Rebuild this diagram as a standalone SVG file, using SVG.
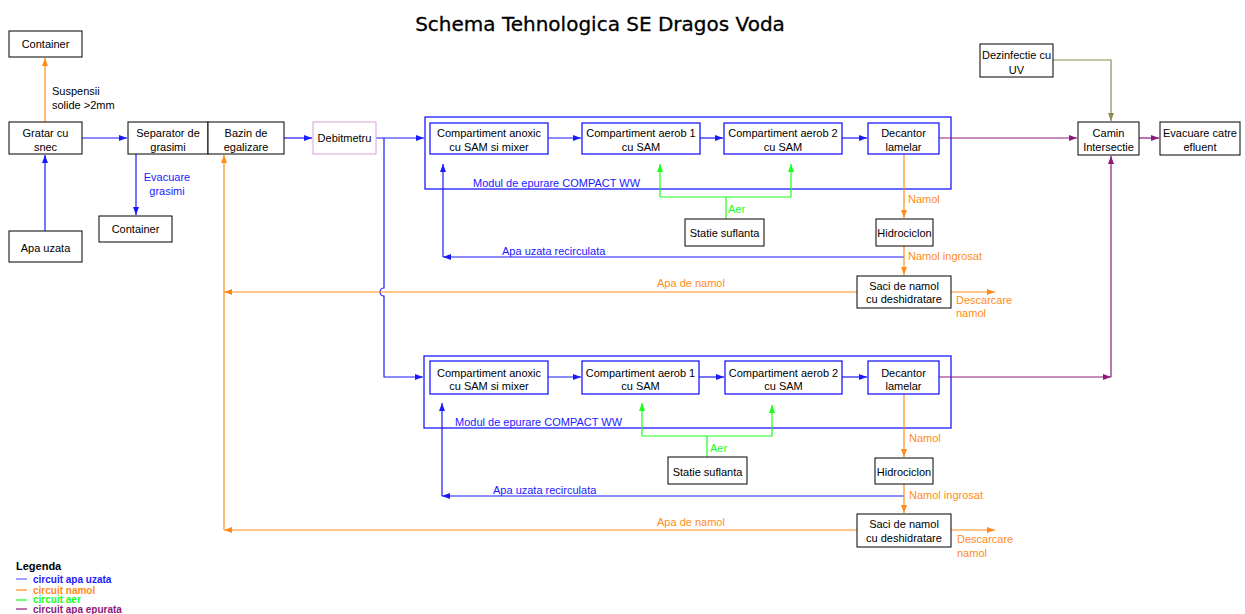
<svg xmlns="http://www.w3.org/2000/svg" width="1245" height="614" viewBox="0 0 1245 614">
<style>
.n{fill:#fff;stroke:#000;stroke-width:1}
.c{fill:#fff;stroke:#1a1aff;stroke-width:1.3}
.m{fill:none;stroke:#1a1aff;stroke-width:1.3}
.t{font-family:"Liberation Sans",Arial,sans-serif;font-size:11px;fill:#000;text-anchor:middle}
.l{font-family:"Liberation Sans",Arial,sans-serif;font-size:11px}
.bl{fill:#1a1aff}.or{fill:#ff8c1a}.gr{fill:#1aff1a}.pu{fill:#8b1a7a}
.B{fill:none;stroke:#1a1aff;stroke-width:1.2}
.O{fill:none;stroke:#ff8c1a;stroke-width:1.2}
.G{fill:none;stroke:#1aff1a;stroke-width:1.2}
.P{fill:none;stroke:#8b1a7a;stroke-width:1.2}
.V{fill:none;stroke:#8c8c50;stroke-width:1.2}
.lg{font-family:"Liberation Sans",Arial,sans-serif;font-size:10px;font-weight:bold}
</style>
<defs>
<marker id="ab" viewBox="0 0 8 6" refX="8" refY="3" markerWidth="8" markerHeight="6" orient="auto" markerUnits="userSpaceOnUse"><path d="M0,0L8,3L0,6z" fill="#1a1aff"/></marker>
<marker id="ao" viewBox="0 0 8 6" refX="8" refY="3" markerWidth="8" markerHeight="6" orient="auto" markerUnits="userSpaceOnUse"><path d="M0,0L8,3L0,6z" fill="#ff8c1a"/></marker>
<marker id="ag" viewBox="0 0 8 6" refX="8" refY="3" markerWidth="8" markerHeight="6" orient="auto" markerUnits="userSpaceOnUse"><path d="M0,0L8,3L0,6z" fill="#1aff1a"/></marker>
<marker id="ap" viewBox="0 0 8 6" refX="8" refY="3" markerWidth="8" markerHeight="6" orient="auto" markerUnits="userSpaceOnUse"><path d="M0,0L8,3L0,6z" fill="#8b1a7a"/></marker>
<marker id="av" viewBox="0 0 8 6" refX="8" refY="3" markerWidth="8" markerHeight="6" orient="auto" markerUnits="userSpaceOnUse"><path d="M0,0L8,3L0,6z" fill="#8c8c50"/></marker>
</defs>
<rect width="1245" height="614" fill="#fff"/>
<text x="600" y="31" style="font-family:'DejaVu Sans',sans-serif;font-size:20px;text-anchor:middle;stroke:#000;stroke-width:0.3">Schema Tehnologica SE Dragos Voda</text>

<g id="modules">
<rect class="m" x="425" y="117" width="526" height="72"/>
<rect class="m" x="424" y="356" width="527" height="72"/>
<text class="l bl" x="473" y="187">Modul de epurare COMPACT WW</text>
<text class="l bl" x="455" y="426">Modul de epurare COMPACT WW</text>
</g>

<g id="connectors">
<path class="B" d="M45,231V155" marker-end="url(#ab)"/>
<path class="B" d="M82,138H127" marker-end="url(#ab)"/>
<path class="B" d="M136,154V215" marker-end="url(#ab)"/>
<path class="B" d="M284,138H312" marker-end="url(#ab)"/>
<path class="B" d="M376,138H424" marker-end="url(#ab)"/>
<path class="B" d="M384,138V288A4,4 0 0 0 384,296V377H423" marker-end="url(#ab)"/>
<path class="B" d="M548,138H581" marker-end="url(#ab)"/>
<path class="B" d="M700,138H723" marker-end="url(#ab)"/>
<path class="B" d="M842,138H867" marker-end="url(#ab)"/>
<path class="B" d="M548,377H581" marker-end="url(#ab)"/>
<path class="B" d="M699,377H724" marker-end="url(#ab)"/>
<path class="B" d="M842,377H867" marker-end="url(#ab)"/>
<path class="B" d="M904,257H443" marker-end="url(#ab)"/>
<path class="B" d="M443,257V164" marker-end="url(#ab)"/>
<path class="B" d="M904,496H442" marker-end="url(#ab)"/>
<path class="B" d="M442,496V403" marker-end="url(#ab)"/>

<path class="G" d="M660,197H791M726,197V219"/>
<path class="G" d="M660,197V164" marker-end="url(#ag)"/>
<path class="G" d="M791,197V164" marker-end="url(#ag)"/>
<path class="G" d="M642,436H772M707,436V457"/>
<path class="G" d="M642,436V403" marker-end="url(#ag)"/>
<path class="G" d="M772,436V405" marker-end="url(#ag)"/>

<path class="O" d="M45,122V58" marker-end="url(#ao)"/>
<path class="O" d="M904,154V218" marker-end="url(#ao)"/>
<path class="O" d="M904,246V275" marker-end="url(#ao)"/>
<path class="O" d="M904,394V457" marker-end="url(#ao)"/>
<path class="O" d="M904,484V513" marker-end="url(#ao)"/>
<path class="O" d="M857,292H224" marker-end="url(#ao)"/>
<path class="O" d="M857,530H224" marker-end="url(#ao)"/>
<path class="O" d="M224,530V155" marker-end="url(#ao)"/>
<path class="O" d="M951,292H995" marker-end="url(#ao)"/>
<path class="O" d="M951,530H995" marker-end="url(#ao)"/>

<path class="P" d="M939,138H1077" marker-end="url(#ap)"/>
<path class="P" d="M1139,138H1159" marker-end="url(#ap)"/>
<path class="P" d="M939,377H1111" marker-end="url(#ap)"/>
<path class="P" d="M1111,377V156" marker-end="url(#ap)"/>
<path class="V" d="M1053,60H1111V121" marker-end="url(#av)"/>

<text class="l" x="52" y="95">Suspensii</text>
<text class="l" x="52" y="109">solide &gt;2mm</text>
<text class="l bl" x="167" y="181" text-anchor="middle">Evacuare</text>
<text class="l bl" x="167" y="195" text-anchor="middle">grasimi</text>
<text class="l bl" x="502" y="255">Apa uzata recirculata</text>
<text class="l bl" x="493" y="494">Apa uzata recirculata</text>
<text class="l gr" x="728" y="213">Aer</text>
<text class="l gr" x="710" y="452">Aer</text>
<text class="l or" x="908" y="203">Namol</text>
<text class="l or" x="908" y="260">Namol ingrosat</text>
<text class="l or" x="909" y="442">Namol</text>
<text class="l or" x="909" y="499">Namol ingrosat</text>
<text class="l or" x="657" y="287">Apa de namol</text>
<text class="l or" x="657" y="526">Apa de namol</text>
<text class="l or" x="956" y="304">Descarcare</text>
<text class="l or" x="956" y="317">namol</text>
<text class="l or" x="957" y="543">Descarcare</text>
<text class="l or" x="957" y="557">namol</text>
</g>

<g id="container1"><rect class="n" x="9" y="31" width="73" height="26"/><text class="t" x="45.5" y="48">Container</text></g>
<g id="gratar"><rect class="n" x="9" y="122" width="73" height="32"/><text class="t" x="45.5" y="137">Gratar cu</text><text class="t" x="45.5" y="151">snec</text></g>
<g id="apa-uzata"><rect class="n" x="9" y="231" width="73" height="31"/><text class="t" x="45.5" y="252">Apa uzata</text></g>
<g id="separator"><rect class="n" x="128" y="122" width="80" height="32"/><text class="t" x="168" y="137">Separator de</text><text class="t" x="168" y="151">grasimi</text></g>
<g id="bazin"><rect class="n" x="208" y="122" width="76" height="32"/><text class="t" x="246" y="137">Bazin de</text><text class="t" x="246" y="151">egalizare</text></g>
<g id="container2"><rect class="n" x="99" y="216" width="73" height="26"/><text class="t" x="135.5" y="233">Container</text></g>
<g id="debitmetru"><rect x="313" y="122" width="63" height="32" fill="#fff" stroke="#d9a0d9"/><text class="t" x="344.5" y="142">Debitmetru</text></g>

<g id="anoxic1"><rect class="c" x="430" y="123" width="118" height="31"/><text class="t" x="489" y="137">Compartiment anoxic</text><text class="t" x="489" y="151">cu SAM si mixer</text></g>
<g id="aerob1-1"><rect class="c" x="582" y="123" width="118" height="31"/><text class="t" x="641" y="137">Compartiment aerob 1</text><text class="t" x="641" y="151">cu SAM</text></g>
<g id="aerob2-1"><rect class="c" x="724" y="123" width="118" height="31"/><text class="t" x="783" y="137">Compartiment aerob 2</text><text class="t" x="783" y="151">cu SAM</text></g>
<g id="decantor1"><rect class="c" x="868" y="123" width="71" height="31"/><text class="t" x="903.5" y="137">Decantor</text><text class="t" x="903.5" y="151">lamelar</text></g>
<g id="statie1"><rect class="n" x="685" y="219" width="79" height="27"/><text class="t" x="724.5" y="237">Statie suflanta</text></g>
<g id="hidro1"><rect class="n" x="876" y="219" width="57" height="27"/><text class="t" x="904.5" y="237">Hidrociclon</text></g>
<g id="saci1"><rect class="n" x="857" y="276" width="94" height="32"/><text class="t" x="904" y="290">Saci de namol</text><text class="t" x="904" y="303">cu deshidratare</text></g>

<g id="anoxic2"><rect class="c" x="430" y="361" width="118" height="33"/><text class="t" x="489" y="377">Compartiment anoxic</text><text class="t" x="489" y="390">cu SAM si mixer</text></g>
<g id="aerob1-2"><rect class="c" x="582" y="361" width="117" height="33"/><text class="t" x="640.5" y="377">Compartiment aerob 1</text><text class="t" x="640.5" y="390">cu SAM</text></g>
<g id="aerob2-2"><rect class="c" x="725" y="361" width="117" height="33"/><text class="t" x="783.5" y="377">Compartiment aerob 2</text><text class="t" x="783.5" y="390">cu SAM</text></g>
<g id="decantor2"><rect class="c" x="868" y="361" width="71" height="33"/><text class="t" x="903.5" y="377">Decantor</text><text class="t" x="903.5" y="390">lamelar</text></g>
<g id="statie2"><rect class="n" x="668" y="457" width="79" height="27"/><text class="t" x="707.5" y="476">Statie suflanta</text></g>
<g id="hidro2"><rect class="n" x="875" y="458" width="58" height="26"/><text class="t" x="904" y="476">Hidrociclon</text></g>
<g id="saci2"><rect class="n" x="857" y="514" width="94" height="33"/><text class="t" x="904" y="528">Saci de namol</text><text class="t" x="904" y="542">cu deshidratare</text></g>

<g id="dezinfectie"><rect class="n" x="980" y="44" width="73" height="33"/><text class="t" x="1016.5" y="59">Dezinfectie cu</text><text class="t" x="1016.5" y="74">UV</text></g>
<g id="camin"><rect class="n" x="1078" y="122" width="61" height="33"/><text class="t" x="1108.5" y="137">Camin</text><text class="t" x="1108.5" y="151">Intersectie</text></g>
<g id="evacuare"><rect class="n" x="1160" y="122" width="80" height="33"/><text class="t" x="1200" y="137">Evacuare catre</text><text class="t" x="1200" y="151">efluent</text></g>

<g id="legend">
<text class="lg" x="16" y="570" style="font-size:11px">Legenda</text>
<path d="M16,579H27" stroke="#6060ff" stroke-width="1.2"/>
<path d="M16,590H27" stroke="#ff8c1a" stroke-width="1.2"/>
<path d="M16,600H27" stroke="#1aff1a" stroke-width="1.2"/>
<path d="M16,609H27" stroke="#8b1a7a" stroke-width="1.2"/>
<text class="lg bl" x="33" y="583">circuit apa uzata</text>
<text class="lg or" x="33" y="593.5">circuit namol</text>
<text class="lg gr" x="33" y="603">circuit aer</text>
<text class="lg pu" x="33" y="613">circuit apa epurata</text>
</g>
</svg>
